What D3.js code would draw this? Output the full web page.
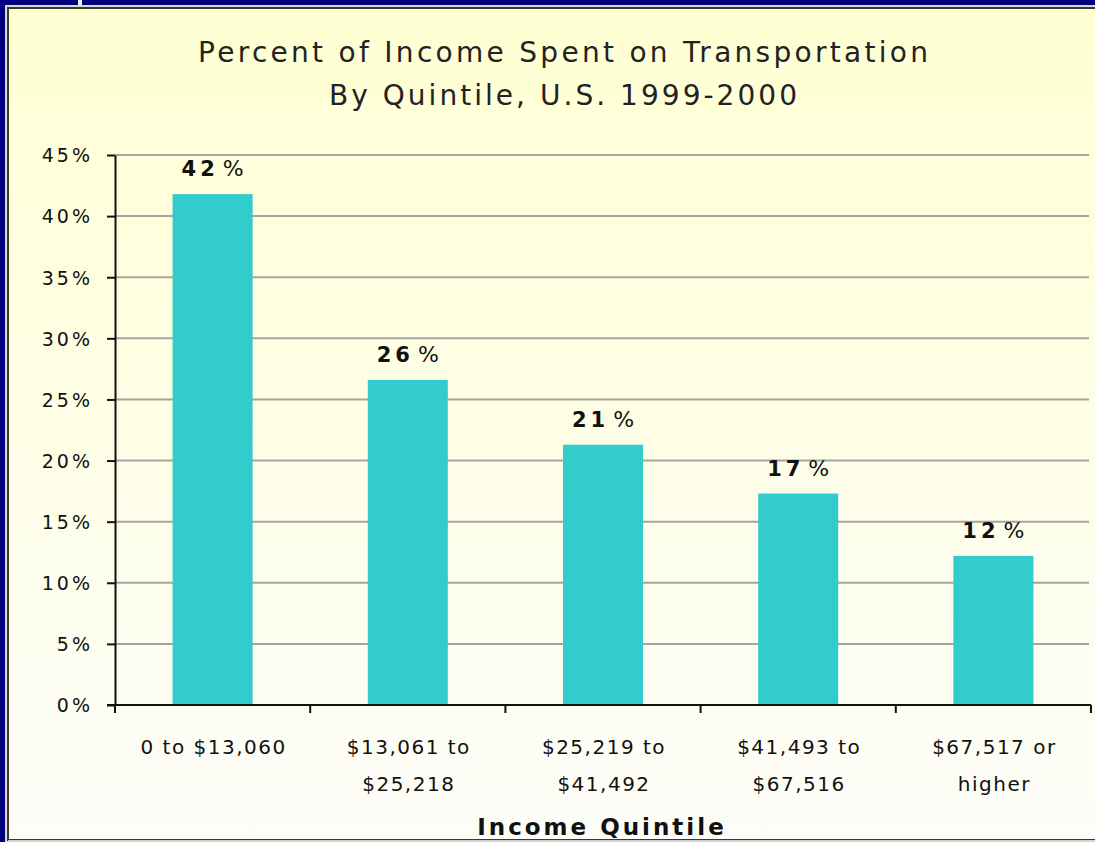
<!DOCTYPE html>
<html lang="en">
<head>
  <meta charset="UTF-8">
  <title>Percent of Income Spent on Transportation</title>
  <style>
    body { margin: 0; padding: 0; background: #000080; }
    svg { display: block; }
    text { font-family: "DejaVu Sans", Verdana, sans-serif; fill: #111; }
  </style>
  <script src="https://d3js.org/d3.v7.min.js"></script>
</head>
<body>
  <svg id="chart"></svg>
  <script>
    // data
    const categories = [
      ['0 to $13,060'],
      ['$13,061 to', '$25,218'],
      ['$25,219 to', '$41,492'],
      ['$41,493 to', '$67,516'],
      ['$67,517 or', 'higher']
    ];
    const values = [41.8, 26.6, 21.3, 17.3, 12.2];
    const valueLabels = ['42', '26', '21', '17', '12'];
    const yTicks = [0, 5, 10, 15, 20, 25, 30, 35, 40, 45];
    const titleLines = ['Percent of Income Spent on Transportation', 'By Quintile, U.S. 1999-2000'];
    const xTitle = 'Income Quintile';

    const width = 1095, height = 842;
    const svg = d3.select('#chart').attr('width', width).attr('height', height);

    // background panel with soft yellow gradient
    const grad = svg.append('defs').append('linearGradient')
      .attr('id', 'bg').attr('x1', 0).attr('y1', 0).attr('x2', 0).attr('y2', 1);
    grad.append('stop').attr('offset', '0%').attr('stop-color', '#ffffd3');
    grad.append('stop').attr('offset', '100%').attr('stop-color', '#fdfdf9');

    svg.append('rect').attr('width', width).attr('height', height).attr('fill', '#000080');
    svg.append('rect').attr('x', 5).attr('y', 5).attr('width', width).attr('height', height)
      .attr('fill', '#d8d8c8');
    svg.append('rect').attr('x', 8).attr('y', 8).attr('width', width).attr('height', height - 10)
      .attr('fill', 'url(#bg)').attr('stroke', '#3a3a30').attr('stroke-width', 2);
    svg.append('line').attr('x1', 8).attr('x2', width).attr('y1', 840.5).attr('y2', 840.5)
      .attr('stroke', '#d0d0d0');
    svg.append('rect').attr('x', 78).attr('y', 0).attr('width', 4).attr('height', 5).attr('fill', '#f4f4f4');

    const margin = { left: 115, right: 4, top: 155, bottom: 137 };
    const x = d3.scaleBand()
      .domain(d3.range(categories.length))
      .range([margin.left, width - margin.right])
      .paddingInner(0.59).paddingOuter(0.295);
    const y = d3.scaleLinear().domain([0, 45]).range([height - margin.bottom, margin.top]);

    // gridlines
    svg.append('g')
      .selectAll('line')
      .data(yTicks.filter(d => d > 0))
      .enter().append('line')
      .attr('x1', margin.left).attr('x2', width - margin.right - 2)
      .attr('y1', d => y(d)).attr('y2', d => y(d))
      .attr('stroke', '#a4a4a0').attr('stroke-width', 2);

    // bars
    svg.append('g')
      .selectAll('rect')
      .data(values)
      .enter().append('rect')
      .attr('x', (d, i) => x(i))
      .attr('width', x.bandwidth())
      .attr('y', d => y(d))
      .attr('height', d => y(0) - y(d))
      .attr('fill', '#33cccc');

    // value labels (number bold, % a little apart like the original)
    const vl = svg.append('g')
      .selectAll('text')
      .data(values)
      .enter().append('text')
      .attr('x', (d, i) => x(i) + x.bandwidth() / 2)
      .attr('y', d => y(d) - 18)
      .attr('text-anchor', 'middle')
      .style('font-size', '21px').style('font-weight', 'bold');
    vl.append('tspan').style('letter-spacing', '4px').text((d, i) => valueLabels[i]);
    vl.append('tspan').attr('dx', 4).style('font-weight', 'normal').style('font-size', '22px').text('%');

    // y axis
    const yAxis = svg.append('g')
      .attr('transform', `translate(${margin.left},0)`)
      .call(d3.axisLeft(y).tickValues(yTicks).tickFormat(d => d + '%').tickSize(8).tickSizeOuter(0));
    yAxis.select('.domain').attr('stroke', '#111').attr('stroke-width', 2);
    yAxis.selectAll('.tick line').attr('stroke', '#111').attr('stroke-width', 2);
    yAxis.selectAll('.tick text')
      .attr('x', -22)
      .attr('dy', '0.36em')
      .style('font-size', '19px').style('letter-spacing', '3px')
      .style('font-family', '"DejaVu Sans", Verdana, sans-serif')
      .attr('fill', '#111');

    // x axis with tick marks at category boundaries
    const y0 = y(0);
    svg.append('line').attr('x1', margin.left - 8).attr('x2', width - margin.right)
      .attr('y1', y0).attr('y2', y0).attr('stroke', '#111').attr('stroke-width', 2);
    const step = x.step();
    const bounds = d3.range(categories.length + 1).map(i => margin.left + i * step);
    svg.append('g')
      .selectAll('line')
      .data(bounds)
      .enter().append('line')
      .attr('x1', d => d).attr('x2', d => d)
      .attr('y1', y0).attr('y2', y0 + 8)
      .attr('stroke', '#111').attr('stroke-width', 2);

    // x tick labels
    const xl = svg.append('g')
      .selectAll('text')
      .data(categories)
      .enter().append('text')
      .attr('x', (d, i) => x(i) + x.bandwidth() / 2 + 1)
      .attr('y', 754)
      .attr('text-anchor', 'middle')
      .style('font-size', '20px').style('letter-spacing', '1.5px');
    xl.each(function(lines) {
      const t = d3.select(this);
      lines.forEach((s, k) => {
        t.append('tspan').attr('x', t.attr('x')).attr('dy', k === 0 ? 0 : 37).text(s);
      });
    });

    // x axis title
    svg.append('text')
      .attr('x', 602).attr('y', 835)
      .attr('text-anchor', 'middle')
      .style('font-size', '23px').style('font-weight', 'bold').style('letter-spacing', '3px')
      .text(xTitle);

    // chart title
    svg.append('g')
      .selectAll('text')
      .data(titleLines)
      .enter().append('text')
      .attr('x', 563)
      .attr('y', (d, i) => 62 + i * 43)
      .attr('text-anchor', 'middle')
      .attr('textLength', (d, i) => i === 0 ? 730 : 468)
      .attr('lengthAdjust', 'spacing')
      .style('font-size', '28px')
      .style('fill', '#222')
      .text(d => d);
  </script>
</body>
</html>
